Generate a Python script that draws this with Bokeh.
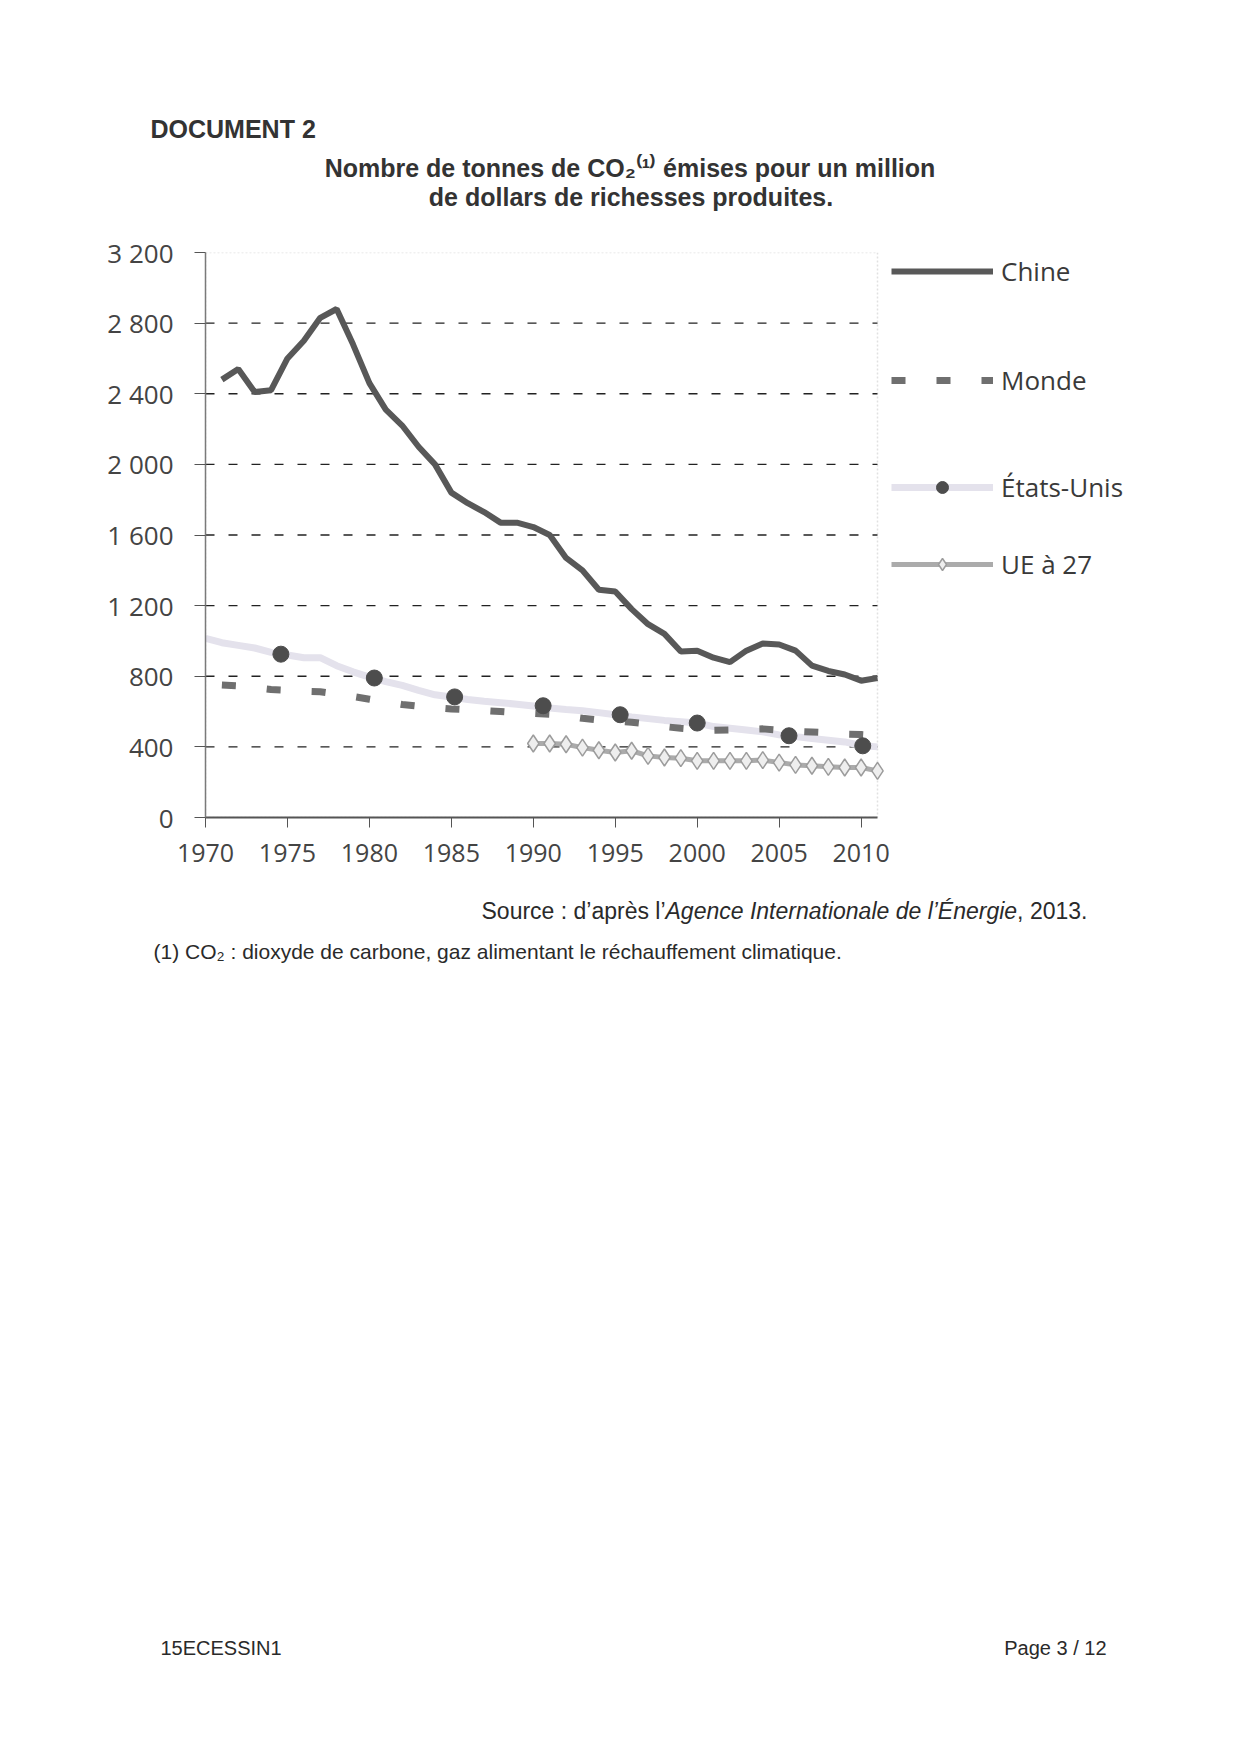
from bokeh.plotting import figure
from bokeh.layouts import column
from bokeh.models import (Range1d, FixedTicker, Label, Legend, LegendItem, BoxAnnotation)
from bokeh.embed import file_html
from bokeh.resources import INLINE

# ---------------- data ----------------
years_chine = list(range(1971, 2012))
chine = [2480, 2540, 2410, 2420, 2600, 2700, 2830, 2880, 2680, 2460,
         2310, 2220, 2100, 2000, 1840, 1780, 1730, 1670, 1670, 1645,
         1600, 1470, 1400, 1290, 1280, 1180, 1095, 1040, 940, 945,
         905, 880, 945, 985, 980, 945, 860, 830, 810, 775, 790]

years_monde = list(range(1971, 2012))
monde = [750, 745, 735, 725, 720, 715, 712, 700, 685, 670,
         655, 640, 630, 622, 615, 610, 606, 600, 594, 590,
         585, 575, 562, 552, 545, 540, 530, 515, 505, 498,
         494, 496, 500, 502, 495, 488, 484, 480, 472, 470, 465]

years_us = list(range(1970, 2012))
etats_unis = [1015, 990, 975, 960, 935, 920, 905, 905, 860, 825,
              795, 770, 748, 720, 695, 682, 668, 658, 650, 642,
              632, 620, 612, 605, 594, 582, 570, 560, 550, 543,
              535, 515, 505, 495, 485, 468, 458, 448, 438, 428,
              408, 400]
us_marker_years = [1974.6, 1980.3, 1985.2, 1990.6, 1995.3, 2000.0, 2005.6, 2010.1]
us_marker_values = [925, 790, 683, 633, 582, 535, 463, 406]

years_ue = list(range(1990, 2012))
ue27 = [419, 419, 415, 396, 381, 368, 378, 349, 340, 336, 321,
        321, 321, 321, 325, 311, 298, 293, 287, 283, 283, 264]

x_start, x_end = 1970, 2011
y_start, y_end = 0, 3200
y_ticks = [0, 400, 800, 1200, 1600, 2000, 2400, 2800, 3200]
y_tick_labels = ["0", "400", "800", "1 200", "1 600", "2 000", "2 400", "2 800", "3 200"]
x_ticks = [1970, 1975, 1980, 1985, 1990, 1995, 2000, 2005, 2010]
x_tick_labels = ["1970", "1975", "1980", "1985", "1990", "1995", "2000", "2005", "2010"]
grid_values = [400, 800, 1200, 1600, 2000, 2400, 2800]

# ---------------- layout constants (page pixels) ----------------
W = 1224
HEADER_H = 220
CHART_H = 660
FOOTER_H = 857
PLOT_L, PLOT_R = 205, 877          # plot area left/right on the page
PLOT_T, PLOT_B = 252, 817          # plot area top/bottom on the page
FRAME_W = W - PLOT_L               # frame extends to the right edge (legend room)
x_range_end = x_start + (x_end - x_start) * FRAME_W / (PLOT_R - PLOT_L)


def no_align(f):
    if "frame_align" in f.properties():
        f.frame_align = False


def text_figure(height):
    f = figure(width=W, height=height, output_backend="svg", toolbar_location=None,
               x_range=Range1d(0, W), y_range=Range1d(0, height),
               x_axis_location=None, y_axis_location=None,
               min_border=0, min_border_left=0, min_border_right=0,
               min_border_top=0, min_border_bottom=0,
               background_fill_color="white", border_fill_color="white")
    f.outline_line_color = None
    f.grid.visible = False
    no_align(f)
    return f


def add_text(f, fh, txt, page_x, page_y, size, align="left", style="normal",
             font="Liberation Sans", color="#2a2a2a"):
    f.add_layout(Label(x=page_x, y=fh - page_y, x_units="screen", y_units="screen", text=txt,
                       text_font=font, text_font_size=size, text_font_style=style,
                       text_align=align, text_baseline="middle", text_color=color))


# ---------------- header ----------------
header = text_figure(HEADER_H)
add_text(header, HEADER_H, "DOCUMENT 2", 150, 128, "25px", style="bold", color="#333333")
add_text(header, HEADER_H, "Nombre de tonnes de CO₂⁽¹⁾ émises pour un million", 629.5, 167,
         "25px", align="center", style="bold", color="#333333")
add_text(header, HEADER_H, "de dollars de richesses produites.", 630.5, 196,
         "25px", align="center", style="bold", color="#333333")

# ---------------- chart ----------------
p = figure(width=W, height=CHART_H, output_backend="svg", toolbar_location=None,
           x_range=Range1d(x_start, x_range_end), y_range=Range1d(y_start, y_end),
           min_border_left=PLOT_L, min_border_right=0,
           min_border_top=PLOT_T - HEADER_H,
           min_border_bottom=CHART_H - (PLOT_T - HEADER_H) - (PLOT_B - PLOT_T),
           background_fill_color="white", border_fill_color="white")
p.outline_line_color = None
p.grid.visible = False
no_align(p)

# plot-area border (dotted)
p.add_layout(BoxAnnotation(left=x_start, right=x_end, bottom=y_start, top=y_end,
                           fill_alpha=0, line_color="#9a9a9a", line_dash="2 2",
                           line_width=1.5, level="underlay"))
# horizontal dashed gridlines limited to the plot area
p.segment(x0=[x_start] * len(grid_values), x1=[x_end] * len(grid_values),
          y0=grid_values, y1=grid_values, line_color="#222222",
          line_dash="9 14", line_width=1.4, level="underlay")

ax = p.yaxis[0]
ax.ticker = FixedTicker(ticks=y_ticks)
ax.major_label_overrides = {t: l for t, l in zip(y_ticks, y_tick_labels)}
ax.axis_line_color = "#7a7a7a"
ax.axis_line_width = 1.5
ax.major_tick_out = 11
ax.major_tick_in = 0
ax.major_tick_line_color = "#555555"
ax.minor_tick_line_color = None
ax.major_label_standoff = 21
ax.major_label_text_font = "Open Sans"
ax.major_label_text_font_size = "26px"
ax.major_label_text_color = "#444444"

bx = p.xaxis[0]
bx.bounds = (x_start, x_end)
bx.ticker = FixedTicker(ticks=x_ticks)
bx.major_label_overrides = {t: l for t, l in zip(x_ticks, x_tick_labels)}
bx.axis_line_color = "#555555"
bx.axis_line_width = 2
bx.major_tick_out = 10
bx.major_tick_in = 0
bx.major_tick_line_color = "#555555"
bx.minor_tick_line_color = None
bx.major_label_standoff = 16
bx.major_label_text_font = "Open Sans"
bx.major_label_text_font_size = "25px"
bx.major_label_text_color = "#444444"

# ---------------- series ----------------
r_us = p.line(years_us, etats_unis, line_color="#e4e2ec", line_width=7)
r_monde = p.line(years_monde, monde, line_color="#6f6f6f", line_width=7, line_dash="14 31")
r_ue = p.line(years_ue, ue27, line_color="#ababab", line_width=5)
r_ue_m = p.scatter(years_ue, ue27, marker="diamond", size=17,
                   fill_color="#eeeeee", line_color="#9c9c9c", line_width=1.5)
r_us_m = p.scatter(us_marker_years, us_marker_values, marker="circle", size=16,
                   fill_color="#4d4d4d", line_color="#4d4d4d")
r_chine = p.line(years_chine, chine, line_color="#585858", line_width=6)


# ---------------- legends (positions relative to frame bottom-left) ----------------
def add_legend(label, renderers, page_x, page_y_center):
    lg = Legend(items=[LegendItem(label=label, renderers=renderers)],
                location=(page_x - PLOT_L, (PLOT_B - page_y_center) - 15),
                glyph_width=102, glyph_height=30, label_height=30, label_standoff=8,
                padding=0, margin=0, spacing=0, border_line_color=None,
                background_fill_alpha=0,
                label_text_font="Open Sans", label_text_font_size="26px",
                label_text_color="#3a3a3a")
    p.add_layout(lg)


add_legend("Chine", [r_chine], 891, 274)
add_legend("Monde", [r_monde], 891, 383)
add_legend("États-Unis", [r_us, r_us_m], 891, 490)
add_legend("UE à 27", [r_ue, r_ue_m], 891, 567)

# ---------------- footer ----------------
FOOT_Y0 = HEADER_H + CHART_H
footer = text_figure(FOOTER_H)


def add_foot(txt, page_x, page_y, size, align="left", style="normal"):
    add_text(footer, FOOTER_H, txt, page_x, page_y - FOOT_Y0, size, align=align, style=style)


add_foot("Source : d’après l’", 481, 910, "23px")
add_foot("Agence Internationale de l’Énergie", 481 + 184, 910, "23px", style="italic")
add_foot(", 2013.", 481 + 184 + 351.6, 910, "23px")
add_foot("(1) CO₂ : dioxyde de carbone, gaz alimentant le réchauffement climatique.", 153, 950.5, "21px")
add_foot("15ECESSIN1", 160, 1647, "20px")
add_foot("Page 3 / 12", 1106, 1647, "20px", align="right")

layout = column(header, p, footer, spacing=0)
open("out.html", "w").write(file_html(layout, INLINE))
